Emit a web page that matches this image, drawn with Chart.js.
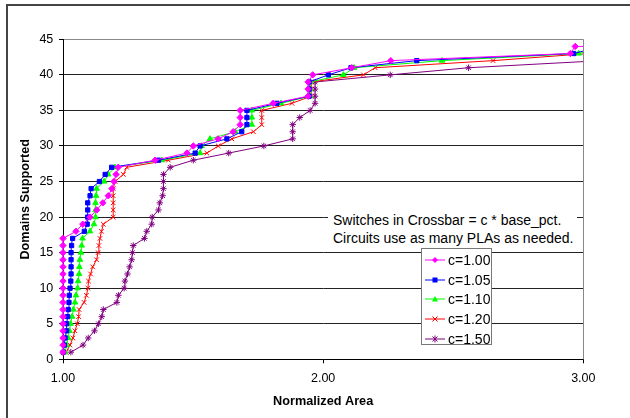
<!DOCTYPE html>
<html>
<head>
<meta charset="utf-8">
<script src="https://cdn.jsdelivr.net/npm/chart.js@4.4.0/dist/chart.umd.min.js"></script>
<style>
    html, body { margin: 0; padding: 0; background: #fff; }
    #wrap { position: relative; width: 630px; height: 418px; overflow: hidden; font-family: 'Liberation Sans', Arial, sans-serif; }
    #frame { position: absolute; left: 6px; top: 4px; width: 700px; height: 500px; border-left: 2px solid #444; border-top: 2px solid #444; pointer-events: none; }
    #note { position: absolute; left: 328px; top: 212px; width: 244px; height: 35px; padding-left: 5px; background: #fff; font-size: 14px; line-height: 17.6px; color: #000; white-space: nowrap; }
    #legend { position: absolute; left: 421px; top: 248px; width: 71px; height: 97px; padding-top: 1.5px; box-sizing: border-box; border: 1px solid #777; background: #fff; }
    .row { height: 19.6px; display: flex; align-items: center; font-size: 14px; color: #000; }
    .row svg { margin-left: 3px; margin-right: 3px; }
</style>
</head>
<body>
<div id="wrap">
    <canvas id="chart" width="630" height="418"></canvas>
    <div id="frame"></div>
    <div id="note">Switches in Crossbar = c * base_pct.<br>Circuits use as many PLAs as needed.</div>
    <div id="legend"></div>
</div>
<script>
// Domains supported (y) and normalized area (x) for each crossbar factor
const domains = [1, 2, 3, 4, 5, 6, 7, 8, 9, 10, 11, 12, 13, 14, 15, 16, 17, 18, 19, 20, 21, 22,
                 23, 24, 25, 26, 27, 28, 29, 30, 31, 32, 33, 34, 35, 36, 37, 38, 39, 40, 41, 42, 43, 44];
const domains100 = [1, 2, 3, 4, 5, 6, 7, 8, 9, 10, 11, 12, 13, 14, 15, 16, 17, 18, 19, 20, 21, 22,
                    23, 24, 25, 26, 27, 28, 29, 30, 31, 32, 33, 34, 35, 36, 37, 38, 39, 40, 41, 42, 43, 44, 44];

const area100 = [1.000, 1.000, 1.000, 1.000, 1.000, 1.000, 1.000, 1.000, 1.000, 1.000, 1.000, 1.000,
                 1.000, 1.000, 1.000, 1.000, 1.000, 1.050, 1.076, 1.104, 1.130, 1.153, 1.174, 1.188,
                 1.196, 1.204, 1.212, 1.354, 1.476, 1.501, 1.596, 1.654, 1.681, 1.681, 1.681, 1.808,
                 1.942, 1.942, 1.942, 1.960, 2.110, 2.260, 2.950, 2.969, 3.400];
const area105 = [1.001, 1.005, 1.008, 1.014, 1.014, 1.018, 1.020, 1.023, 1.024, 1.027, 1.030, 1.031,
                 1.031, 1.031, 1.031, 1.033, 1.037, 1.082, 1.093, 1.095, 1.095, 1.095, 1.104, 1.108,
                 1.140, 1.162, 1.187, 1.367, 1.508, 1.527, 1.630, 1.687, 1.707, 1.707, 1.707, 1.822,
                 1.946, 1.946, 1.946, 2.020, 2.107, 2.360, 2.963, 3.070];
const area110 = [1.008, 1.014, 1.020, 1.025, 1.029, 1.035, 1.040, 1.046, 1.050, 1.056, 1.058, 1.062,
                 1.063, 1.065, 1.069, 1.072, 1.075, 1.104, 1.119, 1.125, 1.125, 1.125, 1.127, 1.129,
                 1.158, 1.174, 1.200, 1.380, 1.527, 1.533, 1.565, 1.662, 1.726, 1.726, 1.726, 1.838,
                 1.950, 1.950, 1.950, 2.078, 2.119, 2.457, 2.982, 3.090];
const area120 = [1.012, 1.027, 1.038, 1.046, 1.055, 1.060, 1.062, 1.081, 1.090, 1.096, 1.098, 1.106,
                 1.114, 1.129, 1.135, 1.138, 1.142, 1.148, 1.155, 1.193, 1.193, 1.193, 1.193, 1.193,
                 1.200, 1.232, 1.245, 1.405, 1.553, 1.597, 1.649, 1.732, 1.764, 1.764, 1.764, 1.880,
                 1.954, 1.954, 1.954, 2.155, 2.200, 2.653, 3.020];
const area150 = [1.030, 1.077, 1.097, 1.121, 1.136, 1.149, 1.155, 1.207, 1.213, 1.235, 1.238, 1.248,
                 1.256, 1.264, 1.267, 1.270, 1.313, 1.322, 1.341, 1.343, 1.367, 1.372, 1.383, 1.386,
                 1.386, 1.386, 1.412, 1.501, 1.637, 1.772, 1.883, 1.883, 1.883, 1.910, 1.950, 1.969,
                 1.969, 1.969, 1.969, 2.258, 2.559, 3.070];

const xTicks = [1, 2, 3];
const yTicks = [0, 5, 10, 15, 20, 25, 30, 35, 40, 45];

const seriesDefs = [
    { label: 'c=1.00', xs: area100, ys: domains100, color: '#ff00ff', style: 'rectRot' },
    { label: 'c=1.05', xs: area105, ys: domains, color: '#0000ff', style: 'rect' },
    { label: 'c=1.10', xs: area110, ys: domains, color: '#00ff00', style: 'triangle' },
    { label: 'c=1.20', xs: area120, ys: domains, color: '#ff0000', style: 'crossRot' },
    { label: 'c=1.50', xs: area150, ys: domains, color: '#800080', style: 'star' }
];

Chart.defaults.font.family = "'Liberation Sans', Arial, sans-serif";
Chart.defaults.color = '#000';

const datasets = seriesDefs.map(s => ({
    label: s.label,
    data: s.xs.map((x, i) => ({ x: x, y: s.ys[i] })),
    showLine: true,
    borderColor: s.color,
    backgroundColor: s.color,
    borderWidth: 1,
    pointStyle: s.style,
    pointRadius: s.style === 'rect' ? 3 : 3.2,
    pointBorderWidth: 1,
    pointHoverRadius: 3,
    tension: 0,
    clip: { left: 6, top: 6, right: 0, bottom: 6 }
}));

// grey right edge of the plot area
const plotFrame = {
    id: 'plotFrame',
    afterDraw(chart) {
        const a = chart.chartArea, ctx = chart.ctx;
        ctx.save();
        ctx.strokeStyle = '#888';
        ctx.lineWidth = 1;
        ctx.beginPath();
        ctx.moveTo(Math.round(a.right) + 0.5, a.top);
        ctx.lineTo(Math.round(a.right) + 0.5, a.bottom);
        ctx.stroke();
        ctx.restore();
    }
};

new Chart(document.getElementById('chart'), {
    type: 'scatter',
    data: { datasets: datasets },
    plugins: [plotFrame],
    options: {
        responsive: false,
        animation: false,
        devicePixelRatio: 1,
        layout: { padding: { top: 39.3, right: 46.7, left: 0, bottom: 0 } },
        plugins: { legend: { display: false }, tooltip: { enabled: false } },
        scales: {
            x: {
                type: 'linear', min: 1, max: 3,
                afterBuildTicks: s => { s.ticks = xTicks.map(v => ({ value: v })); },
                afterFit: s => { s.height = 58.7; },
                ticks: { padding: 8, font: { size: 12.5 }, callback: v => Number(v).toFixed(2) },
                grid: { drawOnChartArea: false, drawTicks: true, tickLength: 4, color: '#000' },
                border: { color: '#000', width: 1 },
                title: { display: true, text: 'Normalized Area', font: { size: 12.7, weight: 'bold' }, padding: { top: 0, bottom: 8.7 } }
            },
            y: {
                type: 'linear', min: 0, max: 45,
                afterBuildTicks: s => { s.ticks = yTicks.map(v => ({ value: v })); },
                afterFit: s => { s.width = 63; },
                ticks: { padding: 5.7, font: { size: 12.5 } },
                grid: { tickLength: 4, tickColor: '#000', color: c => (c.tick && c.tick.value === 45) ? '#888' : '#222' },
                border: { color: '#000', width: 1 },
                title: { display: true, text: 'Domains Supported', font: { size: 12.7, weight: 'bold' }, padding: { top: 17.4, bottom: 0 } }
            }
        }
    }
});

// legend
function markerSvg(style, color) {
    let m = '';
    if (style === 'rectRot') m = `<path d="M10 2 L13 5 L10 8 L7 5 Z" fill="${color}"/>`;
    if (style === 'rect') m = `<rect x="7.5" y="2.5" width="5" height="5" fill="${color}"/>`;
    if (style === 'triangle') m = `<path d="M10 2 L13 7.5 L7 7.5 Z" fill="${color}"/>`;
    if (style === 'crossRot') m = `<path d="M7.5 2.5 L12.5 7.5 M12.5 2.5 L7.5 7.5" stroke="${color}" stroke-width="1"/>`;
    if (style === 'star') m = `<path d="M7.5 2.5 L12.5 7.5 M12.5 2.5 L7.5 7.5 M10 1.5 L10 8.5" stroke="${color}" stroke-width="1"/>`;
    return `<svg width="20" height="10" viewBox="0 0 20 10"><line x1="0" y1="5" x2="20" y2="5" stroke="${color}" stroke-width="1"/>${m}</svg>`;
}

const legend = document.getElementById('legend');
seriesDefs.forEach(s => {
    const row = document.createElement('div');
    row.className = 'row';
    row.innerHTML = markerSvg(s.style, s.color) + `<span>${s.label}</span>`;
    legend.appendChild(row);
});
</script>
</body>
</html>
